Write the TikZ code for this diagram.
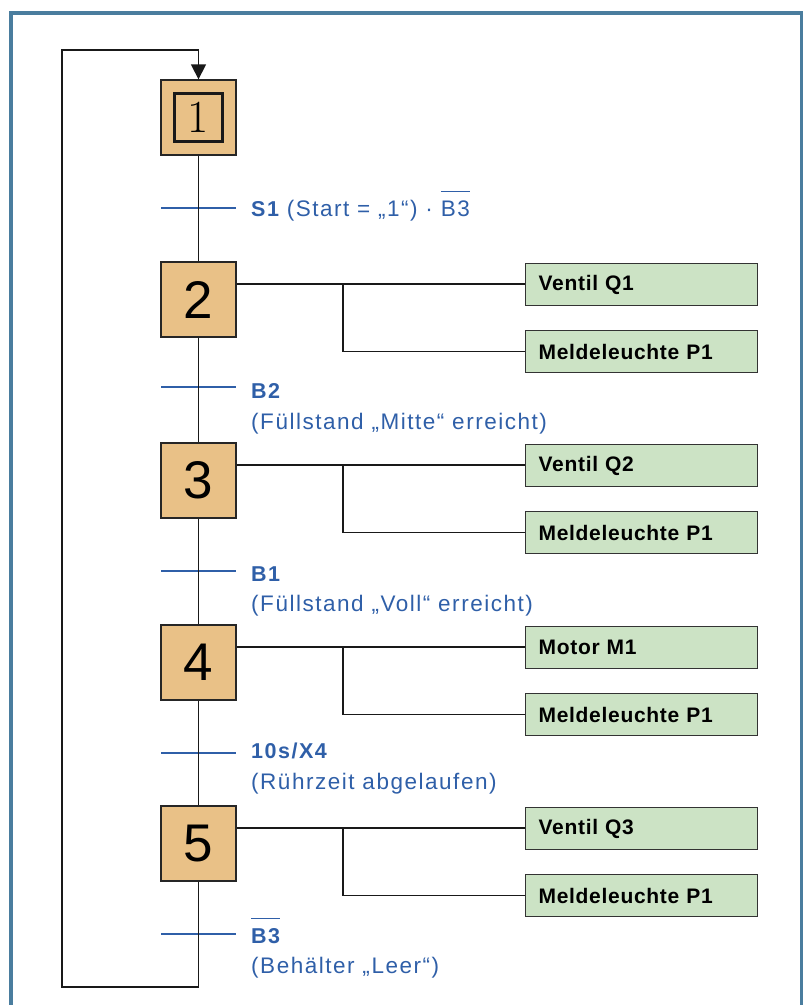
\documentclass[tikz,border=0pt]{standalone}
\usepackage{fontspec}
\usetikzlibrary{arrows.meta}
\newfontfamily\lblfont[LetterSpace=6.8]{Liberation Sans}
\newfontfamily\lblboldfont[LetterSpace=7,UprightFont=*,BoldFont=* Bold]{Liberation Sans}
\newfontfamily\actfont[LetterSpace=3.3]{Liberation Sans}
\newfontfamily\numfont{Liberation Sans}
\definecolor{framec}{HTML}{4A7D9E}
\definecolor{stepc}{HTML}{E9C187}
\definecolor{actc}{HTML}{CCE3C5}
\definecolor{trc}{HTML}{2F5FA8}
% text with a bar well above its capitals
\newcommand\barred[1]{\setbox0=\hbox{#1}\rlap{\rule[24pt]{\wd0}{1.2pt}}\box0}
% bold signal name in the transition labels
\newcommand\sig[1]{{\lblboldfont\bfseries\fontsize{21.5}{24}\selectfont #1}}
\tikzset{
  conn/.style={draw=black!90, line width=1.3pt},
  stepbox/.style={draw=black!85, line width=1.3pt, fill=stepc, minimum width=75pt,
    minimum height=75pt, inner sep=0pt, font=\numfont\fontsize{53}{53}\selectfont},
  actbox/.style={draw=black!80, line width=1.3pt, fill=actc, minimum height=42pt,
    text width=206pt, inner xsep=13pt, inner ysep=0pt, align=left, anchor=north west,
    font=\actfont\bfseries\fontsize{21}{24}\selectfont},
  tbar/.style={draw=trc, line width=2.8pt},
  tlbl/.style={anchor=base west, inner sep=0pt, text=trc,
    font=\lblfont\fontsize{22.5}{24}\selectfont},
}
\begin{document}
\begin{tikzpicture}[x=1pt,y=-1pt]
\useasboundingbox (0,0) rectangle (806,1005);
% outer frame, open at the bottom edge
\draw[framec, line width=3.2pt] (11,1020) -- (11,13) -- (801.5,13) -- (801.5,1020);

% steps
\node[stepbox] (s1) at (198.5,117.5) {};
\node[draw=black!90, line width=2.7pt, minimum size=48pt, inner sep=0pt,
      font=\rmfamily\fontsize{46}{46}\selectfont] (s1in) at (s1.center) {1};
\node[stepbox] (s2) at (198.5,299.5) {2};
\node[stepbox] (s3) at (198.5,480.5) {3};
\node[stepbox] (s4) at (198.5,662.5) {4};
\node[stepbox] (s5) at (198.5,843.5) {5};

% transitions
\draw[tbar] (161,208) -- (236,208);
\draw[tbar] (161,387) -- (236,387);
\draw[tbar] (161,571) -- (236,571);
\draw[tbar] (161,753) -- (236,753);
\draw[tbar] (161,934) -- (236,934);

\node[tlbl] (t1) at (251,216) {\sig{S1} (Start = „1“) · \barred{B3}};
\node[tlbl] (t2a) at (251,398) {\sig{B2}};
\node[tlbl] (t2b) at (251,429) {(Füllstand „Mitte“ erreicht)};
\node[tlbl] (t3a) at (251,581) {\sig{B1}};
\node[tlbl] (t3b) at (251,611) {(Füllstand „Voll“ erreicht)};
\node[tlbl] (t4a) at (251,758) {\sig{10s/X4}};
\node[tlbl] (t4b) at (251,789) {(Rührzeit abgelaufen)};
\node[tlbl] (t5a) at (251,943) {\barred{\sig{B3}}};
\node[tlbl] (t5b) at (251,973) {(Behälter „Leer“)};

% actions
\node[actbox] (a2) at (525,263) {Ventil Q1};
\node[actbox] (b2) at (525,330) {Meldeleuchte P1};
\node[actbox] (a3) at (525,444) {Ventil Q2};
\node[actbox] (b3) at (525,511) {Meldeleuchte P1};
\node[actbox] (a4) at (525,626) {Motor M1};
\node[actbox] (b4) at (525,693) {Meldeleuchte P1};
\node[actbox] (a5) at (525,807) {Ventil Q3};
\node[actbox] (b5) at (525,874) {Meldeleuchte P1};

% sequence line and return loop
\coordinate (lb) at (62,987);
\coordinate (lt) at (198.5,50);
\draw[conn] (s1) -- (s2);
\draw[conn] (s2) -- (s3);
\draw[conn] (s3) -- (s4);
\draw[conn] (s4) -- (s5);
\draw[conn, -{Triangle[length=15pt,width=15pt]}] (s5.south) |- (lb) |- (lt) -- (s1.north);

% action links
\foreach \k/\y in {2/284, 3/465, 4/647, 5/828}{
  \coordinate (j\k) at (343,\y);
  \draw[conn] (s\k.east |- j\k) -- (a\k.west |- j\k);
  \draw[conn] (j\k) |- (b\k.west);
}
\end{tikzpicture}
\end{document}
